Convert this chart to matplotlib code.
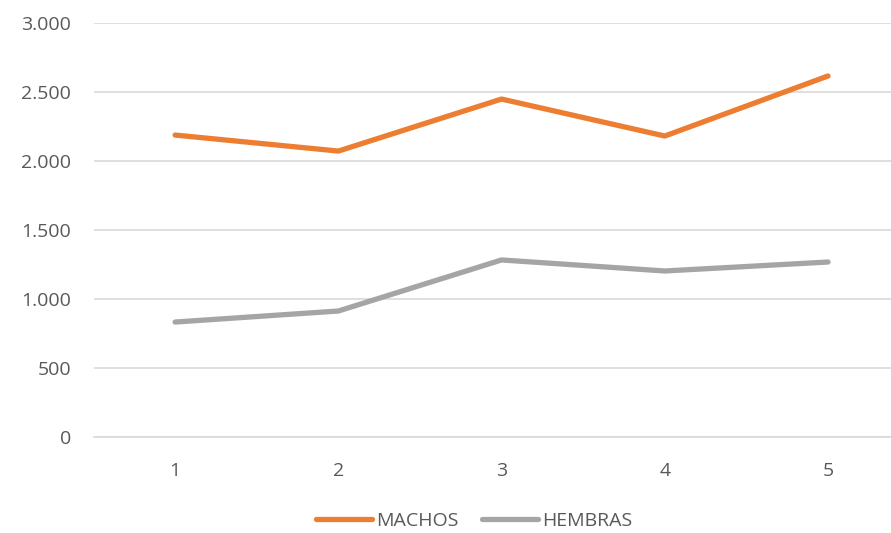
import matplotlib
matplotlib.use('Agg')
from matplotlib import pyplot as plt
from matplotlib.ticker import FuncFormatter

plt.rcParams['font.family'] = ['Open Sans', 'DejaVu Sans']

x = [1, 2, 3, 4, 5]
machos = [2188, 2072, 2449, 2181, 2616]
hembras = [833, 913, 1283, 1203, 1268]

fig = plt.figure(figsize=(8.91, 5.33), dpi=100)
ax = fig.add_axes([93.5 / 891, 96 / 533, 1 - 93.5 / 891, 414 / 533])

ax.plot(x, machos, color='#ED7D31', linewidth=3.8, solid_capstyle='round', label='MACHOS')
ax.plot(x, hembras, color='#A5A5A5', linewidth=3.8, solid_capstyle='round', label='HEMBRAS')

ax.set_xlim(0.5, 5.386)
ax.set_ylim(0, 3000)
ax.set_xticks(x)
ax.set_yticks(range(0, 3001, 500))
ax.yaxis.set_major_formatter(FuncFormatter(lambda v, p: f'{int(v):,}'.replace(',', '.')))

ax.grid(axis='y', color='#D9D9D9', linewidth=1.2)
ax.set_axisbelow(True)
for s in ['top', 'right', 'left']:
    ax.spines[s].set_visible(False)
ax.spines['bottom'].set_color('#D9D9D9')
ax.spines['bottom'].set_linewidth(1.2)
ax.tick_params(length=0, colors='#595959', labelsize=14)
ax.tick_params(axis='y', pad=16)
ax.tick_params(axis='x', pad=18)

fig.legend(loc='center', bbox_to_anchor=(0.532, 1 - 521 / 533), ncol=2, frameon=False,
           fontsize=14, labelcolor='#595959', handlelength=2.9, handletextpad=0.2,
           columnspacing=1.2)

plt.savefig('out.png', dpi=100)
